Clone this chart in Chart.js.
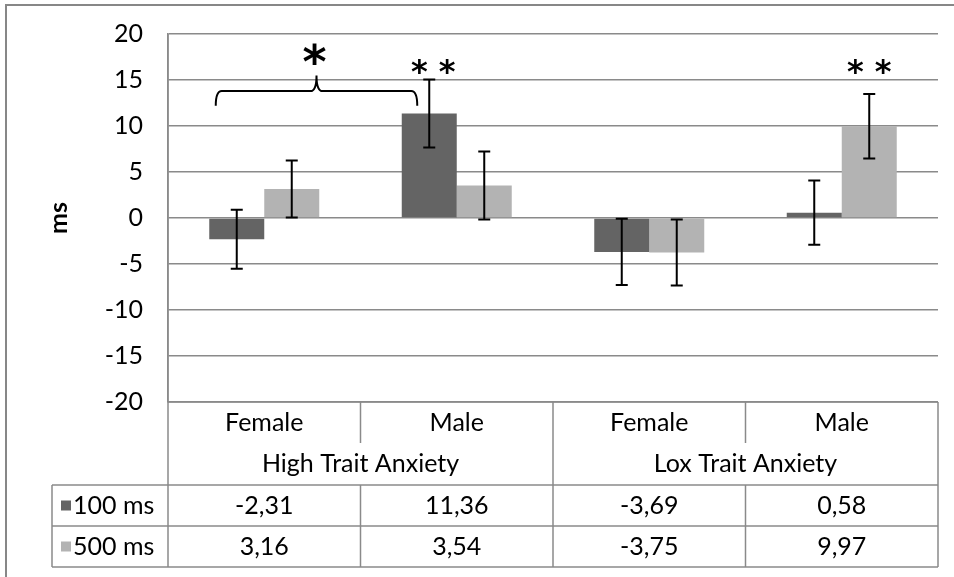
<!DOCTYPE html>
<html>
<head>
<meta charset="utf-8">
<script src="https://cdn.jsdelivr.net/npm/chart.js@4.4.0/dist/chart.umd.min.js"></script>
<style>
  html, body { margin: 0; padding: 0; background: #fff; }
  #wrap { width: 954px; height: 577px; }
</style>
</head>
<body>
<div id="wrap"><canvas id="chart" width="954" height="577"></canvas></div>
<script>
// --- Données ---
const subgroups = ['Female', 'Male', 'Female', 'Male'];
const groups = ['High Trait Anxiety', 'Lox Trait Anxiety'];
const seriesNames = ['100 ms', '500 ms'];
const values100 = [-2.31, 11.36, -3.69, 0.58];
const values500 = [3.16, 3.54, -3.75, 9.97];
const err100 = [3.2, 3.7, 3.6, 3.5];
const err500 = [3.1, 3.7, 3.6, 3.5];
const yMin = -20, yMax = 20, yStep = 5;

const darkGrey = '#646464';
const lightGrey = '#b3b3b3';
const lineGrey = '#8a8a8a';
const FONT = 'Lato, "Open Sans", sans-serif';
const FS = 25;

// barres d'erreur
const errorBars = {
    id: 'errorBars',
    afterDatasetsDraw(chart) {
        const ctx = chart.ctx;
        const y = chart.scales.y;
        const errs = [err100, err500];
        ctx.save();
        ctx.strokeStyle = '#000';
        ctx.lineWidth = 2;
        chart.data.datasets.forEach((ds, i) => {
            const meta = chart.getDatasetMeta(i);
            meta.data.forEach((bar, j) => {
                const v = ds.data[j], e = errs[i][j];
                const top = y.getPixelForValue(v + e);
                const bot = y.getPixelForValue(v - e);
                ctx.beginPath();
                ctx.moveTo(bar.x, top); ctx.lineTo(bar.x, bot);
                ctx.moveTo(bar.x - 6, top); ctx.lineTo(bar.x + 6, top);
                ctx.moveTo(bar.x - 6, bot); ctx.lineTo(bar.x + 6, bot);
                ctx.stroke();
            });
        });
        ctx.restore();
    }
};

// accolade + étoiles de significativité
const signif = {
    id: 'signif',
    afterDatasetsDraw(chart) {
        const ctx = chart.ctx;
        const y = chart.scales.y;
        const m0 = chart.getDatasetMeta(0).data;
        const m1 = chart.getDatasetMeta(1).data;
        const L = m0[0].x - 21, R = m0[1].x - 12, M = (L + R) / 2;
        const yH = y.getPixelForValue(13.8);
        const yEnd = y.getPixelForValue(12.2);
        const yTip = y.getPixelForValue(15.5);
        const r = 6;
        ctx.save();
        ctx.strokeStyle = '#000';
        ctx.lineWidth = 2;
        ctx.beginPath();
        ctx.moveTo(L, yEnd);
        ctx.quadraticCurveTo(L, yH, L + r, yH);
        ctx.lineTo(M - r, yH);
        ctx.quadraticCurveTo(M, yH, M, yTip);
        ctx.quadraticCurveTo(M, yH, M + r, yH);
        ctx.lineTo(R - r, yH);
        ctx.quadraticCurveTo(R, yH, R, yEnd);
        ctx.stroke();

        ctx.fillStyle = '#000';
        ctx.textAlign = 'center';
        ctx.textBaseline = 'middle';
        ctx.font = 'bold 46px "DejaVu Sans"';
        ctx.fillText('*', M - 2, y.getPixelForValue(18.2) + 15);
        ctx.font = 'bold 32px "DejaVu Sans"';
        ctx.fillText('* *', m0[1].x + 4, y.getPixelForValue(16.5) + 7);
        ctx.fillText('* *', m1[3].x, y.getPixelForValue(16.4) + 7);
        ctx.restore();
    }
};

// tableau de données sous le graphique + cadre
const dataTable = {
    id: 'dataTable',
    afterDraw(chart) {
        const ctx = chart.ctx;
        const area = chart.chartArea;
        const n = subgroups.length;
        const w = (area.right - area.left) / n;
        const col = k => area.left + k * w;
        const r0 = area.bottom, r1 = r0 + 41, r2 = r1 + 42, r3 = r2 + 41, r4 = r3 + 41;
        const legLeft = 52;
        ctx.save();

        // cadre extérieur
        ctx.strokeStyle = '#878787';
        ctx.lineWidth = 2;
        ctx.beginPath();
        ctx.moveTo(6, chart.height); ctx.lineTo(6, 5); ctx.lineTo(chart.width, 5);
        ctx.stroke();

        ctx.strokeStyle = lineGrey;
        ctx.lineWidth = 1.5;
        ctx.beginPath();
        // lignes horizontales
        ctx.moveTo(area.left, r0); ctx.lineTo(area.right, r0);
        [r2, r3, r4].forEach(yy => { ctx.moveTo(legLeft, yy); ctx.lineTo(area.right, yy); });
        // lignes verticales
        ctx.moveTo(area.left, area.top); ctx.lineTo(area.left, r4);
        ctx.moveTo(legLeft, r2); ctx.lineTo(legLeft, r4);
        ctx.moveTo(area.right, r0); ctx.lineTo(area.right, r4);
        for (let k = 1; k < n; k++) {
            const xx = col(k);
            if (k % 2 === 0) {
                ctx.moveTo(xx, r0); ctx.lineTo(xx, r4);
            } else {
                ctx.moveTo(xx, r0); ctx.lineTo(xx, r1);
                ctx.moveTo(xx, r2); ctx.lineTo(xx, r4);
            }
        }
        ctx.stroke();

        ctx.fillStyle = '#000';
        ctx.font = FS + 'px ' + FONT;
        ctx.textBaseline = 'middle';
        ctx.textAlign = 'center';
        subgroups.forEach((s, k) => ctx.fillText(s, col(k) + w / 2, (r0 + r1) / 2));
        groups.forEach((g, k) => ctx.fillText(g, col(2 * k) + w, (r1 + r2) / 2));
        const fmt = v => v.toFixed(2).replace('.', ',');
        values100.forEach((v, k) => ctx.fillText(fmt(v), col(k) + w / 2, (r2 + r3) / 2));
        values500.forEach((v, k) => ctx.fillText(fmt(v), col(k) + w / 2, (r3 + r4) / 2));

        // légende dans le tableau
        ctx.textAlign = 'left';
        [[darkGrey, (r2 + r3) / 2], [lightGrey, (r3 + r4) / 2]].forEach(([c, yy], i) => {
            ctx.fillStyle = c;
            ctx.fillRect(61, yy - 5, 10, 10);
            ctx.fillStyle = '#000';
            ctx.fillText(seriesNames[i], 73, yy);
        });
        ctx.restore();
    }
};

new Chart(document.getElementById('chart'), {
    type: 'bar',
    data: {
        labels: subgroups,
        datasets: [
            { label: seriesNames[0], data: values100, backgroundColor: darkGrey, borderWidth: 0 },
            { label: seriesNames[1], data: values500, backgroundColor: lightGrey, borderWidth: 0 }
        ]
    },
    options: {
        responsive: false,
        animation: false,
        layout: { padding: { top: 34, right: 16, bottom: 175, left: 0 } },
        datasets: { bar: { categoryPercentage: 0.5714, barPercentage: 1 } },
        plugins: { legend: { display: false }, tooltip: { enabled: false } },
        scales: {
            x: { display: false },
            y: {
                min: yMin,
                max: yMax,
                ticks: { stepSize: yStep, color: '#000', padding: 0, font: { family: FONT, size: FS } },
                // tick marks invisibles : ils servent seulement à décaler les libellés
                grid: { color: lineGrey, lineWidth: 1.5, drawTicks: true, tickLength: 25, tickColor: 'rgba(0,0,0,0)' },
                border: { color: lineGrey, width: 1.5 },
                title: {
                    display: true, text: 'ms', color: '#000',
                    font: { family: FONT, size: FS, weight: 'bold' },
                    padding: { top: 44, bottom: 0 }
                },
                afterFit(scale) { scale.width = 168; }
            }
        }
    },
    plugins: [errorBars, signif, dataTable]
});
</script>
</body>
</html>
